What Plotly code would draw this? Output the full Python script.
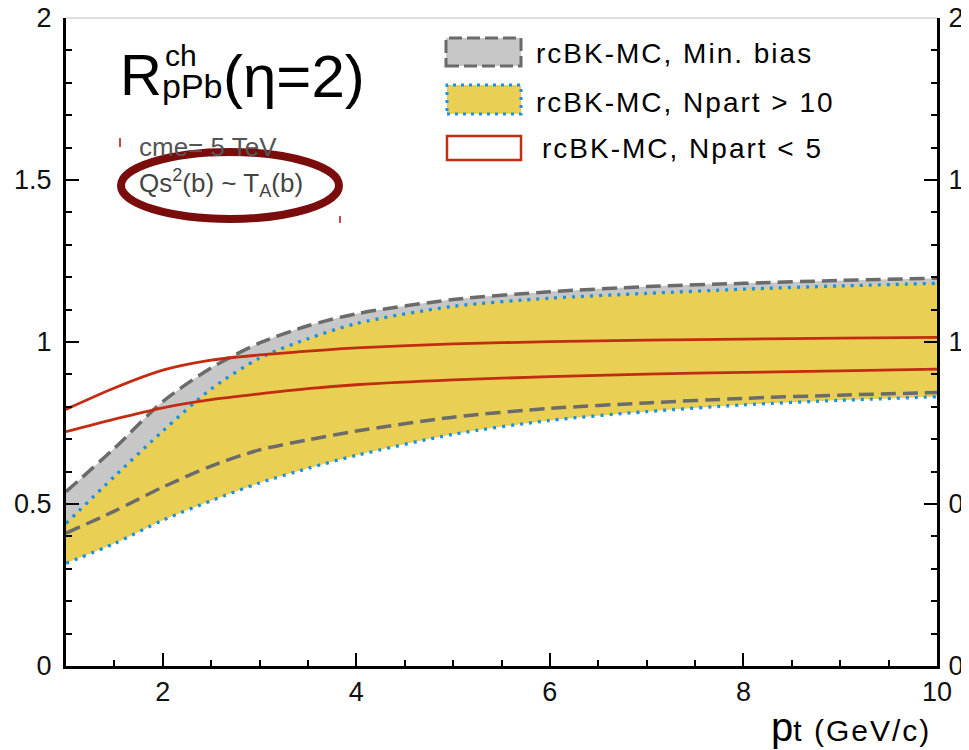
import plotly.graph_objects as go

pt = [1, 1.5, 2, 2.5, 3, 3.5, 4, 5, 6, 7, 8, 9, 10]
minbias_hi = [0.538, 0.672, 0.816, 0.92, 0.997, 1.05, 1.087, 1.131, 1.155, 1.171, 1.181, 1.19, 1.197]
minbias_lo = [0.41, 0.478, 0.552, 0.617, 0.667, 0.698, 0.725, 0.768, 0.795, 0.812, 0.826, 0.836, 0.844]
npart10_hi = [0.44, 0.585, 0.725, 0.855, 0.95, 1.01, 1.057, 1.11, 1.135, 1.15, 1.163, 1.173, 1.181]
npart10_lo = [0.317, 0.378, 0.45, 0.51, 0.565, 0.61, 0.65, 0.715, 0.758, 0.785, 0.806, 0.82, 0.831]
npart5_hi = [0.792, 0.858, 0.913, 0.944, 0.96, 0.972, 0.982, 0.994, 1.001, 1.006, 1.009, 1.012, 1.014]
npart5_lo = [0.723, 0.762, 0.797, 0.822, 0.84, 0.856, 0.868, 0.883, 0.893, 0.901, 0.906, 0.911, 0.916]

legend_labels = ["rcBK-MC, Min. bias", "rcBK-MC, Npart > 10", "rcBK-MC, Npart < 5"]

GRAY_FILL = "#c7c7c7"
GRAY_LINE = "#6b6b6b"
YELLOW = "#e9cf54"
BLUE = "#1b8fe0"
RED = "#c22c10"
FONT = "Liberation Sans, Arial, Helvetica, sans-serif"

# page is offset by the 8px body margin
OFF = 8
FW, FH = 961, 742
L, R, T, B = 58, 32, 10, 84
PW, PH = FW - L - R, FH - T - B


def px(xp):
    return (xp - OFF - L) / PW


def py(yp):
    return (FH - B - (yp - OFF)) / PH


fig = go.Figure()
sp = dict(shape="spline", smoothing=0.8)

# gray band
fig.add_trace(go.Scatter(x=pt, y=minbias_lo, mode="lines", line=dict(width=0, **sp), showlegend=False, hoverinfo="skip"))
fig.add_trace(go.Scatter(x=pt, y=minbias_hi, mode="lines", fill="tonexty", fillcolor=GRAY_FILL,
                         line=dict(width=0, **sp), showlegend=False, hoverinfo="skip"))
# yellow band
fig.add_trace(go.Scatter(x=pt, y=npart10_lo, mode="lines", line=dict(width=0, **sp), showlegend=False, hoverinfo="skip"))
fig.add_trace(go.Scatter(x=pt, y=npart10_hi, mode="lines", fill="tonexty", fillcolor=YELLOW,
                         line=dict(width=0, **sp), showlegend=False, hoverinfo="skip"))
# blue dotted edges
for ys in (npart10_hi, npart10_lo):
    fig.add_trace(go.Scatter(x=pt, y=ys, mode="lines", line=dict(color=BLUE, width=3.3, dash="3px,6px", **sp),
                             showlegend=False))
# gray dashed edges
for ys in (minbias_hi, minbias_lo):
    fig.add_trace(go.Scatter(x=pt, y=ys, mode="lines", line=dict(color=GRAY_LINE, width=3.5, dash="15px,7px", **sp),
                             showlegend=False))
# red lines
for ys in (npart5_hi, npart5_lo):
    fig.add_trace(go.Scatter(x=pt, y=ys, mode="lines", line=dict(color=RED, width=2.8, **sp), showlegend=False))

# invisible trace for the right axis
fig.add_trace(go.Scatter(x=[1], y=[0], yaxis="y2", mode="markers", marker=dict(opacity=0), showlegend=False,
                         hoverinfo="skip"))

axis_common = dict(
    showgrid=False, zeroline=False, showline=True, linecolor="black", linewidth=3,
    ticks="inside", tickcolor="black", tickwidth=2.2, ticklen=13,
    tickfont=dict(family=FONT, size=27, color="#111"), ticklabeloverflow="allow",
)
minor_y = dict(dtick=0.1, ticks="inside", ticklen=6, tickwidth=1.5, tickcolor="black")

fig.update_layout(
    width=FW, height=FH,
    margin=dict(l=L, r=R, t=T, b=B, autoexpand=False),
    paper_bgcolor="white", plot_bgcolor="white",
    showlegend=False,
    xaxis=dict(range=[1, 10], tick0=0, dtick=2, mirror=False, ticklabelstandoff=0,
               minor=dict(dtick=0.5, ticks="inside", ticklen=6, tickwidth=1.5, tickcolor="black"),
               automargin=False, **axis_common),
    yaxis=dict(range=[0, 2], tick0=0, dtick=0.5, ticklabelstandoff=6, minor=minor_y,
               automargin=False, **axis_common),
    yaxis2=dict(range=[0, 2], tick0=0, dtick=0.5, overlaying="y", side="right", anchor="x",
                ticklabelstandoff=3, minor=minor_y, automargin=False, **axis_common),
)

shapes = []
# top frame line (thin gray)
shapes.append(dict(type="line", xref="paper", yref="paper", x0=0, x1=1, y0=1, y1=1,
                   line=dict(color="#bdbdbd", width=1.2), layer="above"))
# legend boxes
shapes.append(dict(type="rect", xref="paper", yref="paper", x0=px(446), x1=px(521), y0=py(66), y1=py(38),
                   fillcolor=GRAY_FILL, line=dict(color=GRAY_LINE, width=3, dash="13px,5px")))
shapes.append(dict(type="rect", xref="paper", yref="paper", x0=px(447), x1=px(521), y0=py(114), y1=py(85),
                   fillcolor=YELLOW, line=dict(color=BLUE, width=3, dash="3px,5px")))
shapes.append(dict(type="rect", xref="paper", yref="paper", x0=px(447), x1=px(521), y0=py(160), y1=py(136),
                   fillcolor="white", line=dict(color=RED, width=2.5)))
# ellipse annotation
shapes.append(dict(type="circle", xref="paper", yref="paper", x0=px(121), x1=px(339), y0=py(219), y1=py(152),
                   line=dict(color="#7a0c0c", width=8), layer="above"))
# small red marks
shapes.append(dict(type="line", xref="paper", yref="paper", x0=px(120), x1=px(120), y0=py(147), y1=py(138),
                   line=dict(color="#b01010", width=1.5), layer="above"))
shapes.append(dict(type="line", xref="paper", yref="paper", x0=px(340), x1=px(340), y0=py(223), y1=py(216),
                   line=dict(color="#b01010", width=1.5), layer="above"))
fig.update_layout(shapes=shapes)

ann = []


def txt(text, x, y, size, color="black", xanchor="left"):
    ann.append(dict(text=text, xref="paper", yref="paper", x=px(x), y=py(y), xanchor=xanchor, yanchor="middle",
                    showarrow=False, font=dict(family=FONT, size=size, color=color)))


# legend texts
LS = "<span style='letter-spacing:2px'>%s</span>"
txt(LS % legend_labels[0], 534, 53, 28)
txt(LS % legend_labels[1], 534, 102, 28)
txt(LS % legend_labels[2], 540, 148, 28)

# big title
txt("R", 118, 74, 58)
txt("ch", 163, 55, 30)
txt("pPb", 160, 86, 34)
txt("(η=2)", 221, 77, 60)

# small texts
txt("cme= 5 TeV", 137, 147, 26, color="#555555")
txt("Qs<sup>2</sup>(b) ~ T<sub>A</sub>(b)", 137, 183, 26, color="#444444")

# x title
txt("<span style='font-size:40px'>p</span><span style='letter-spacing:2px'>t (GeV/c)</span>", 933, 727, 30,
    xanchor="right")

fig.update_layout(annotations=ann)

fig.write_html("out.html")
